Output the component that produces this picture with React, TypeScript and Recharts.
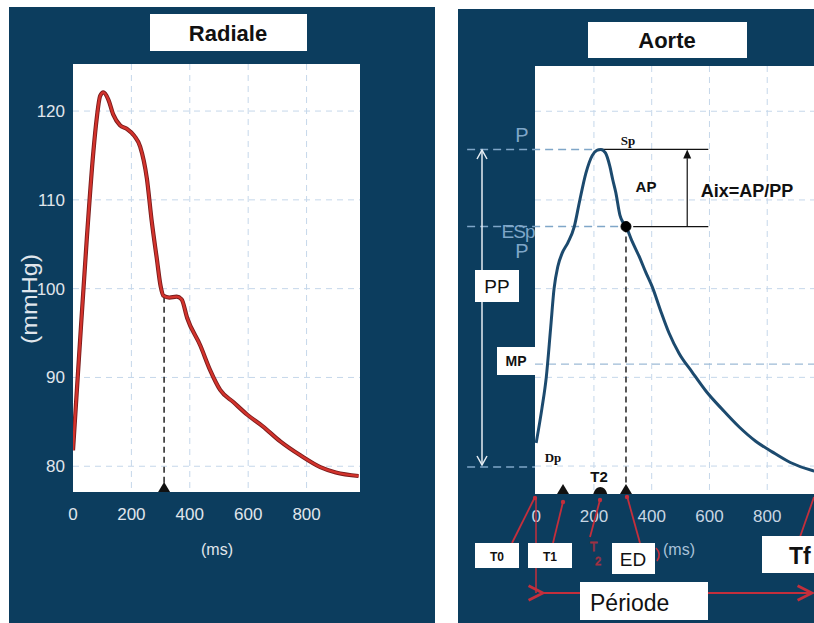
import React from "react";
import {
  LineChart,
  Line,
  XAxis,
  YAxis,
  CartesianGrid,
  ReferenceLine,
  ReferenceDot,
} from "recharts";

// ---------- Radiale (left) ----------
const radialTimes = [0, 20, 47, 70, 81, 93, 104, 121, 138, 161, 184, 210, 230, 253, 270, 287, 300, 310, 330, 355, 372, 391, 436, 470, 504, 550, 597, 650, 710, 780, 847, 900, 978];
const radialPressure = [81.8, 92, 105.5, 115.5, 119.1, 121.7, 122.1, 121.3, 119.6, 118.4, 118, 117.2, 116, 112.4, 107.5, 103.4, 100.3, 99.2, 99.0, 99.1, 98.8, 96.7, 93.6, 90.8, 88.6, 87.2, 85.8, 84.5, 82.8, 81.2, 79.9, 79.3, 78.9];
const radialXTicks = [0, 200, 400, 600, 800];
const radialYTicks = [80, 90, 100, 110, 120];
const radialNotchTime = 312;
const radialNotchValue = 99.1;

// ---------- Aorte (right) ----------
const aortaTimes = [0, 20, 35, 50, 62, 75, 90, 110, 132, 150, 172, 194, 210, 224, 240, 255, 265, 276, 290, 300, 311, 330, 357, 380, 402, 430, 460, 495, 540, 589, 644, 703, 760, 817, 880, 956, 1000];
const aortaPressure = [82.6, 86.5, 90, 95.5, 100, 102.5, 104, 105.2, 107, 109.8, 113, 115, 115.6, 115.7, 115.3, 113.8, 112.3, 110.8, 108.3, 107.5, 107.0, 105.5, 103.6, 101.8, 100.2, 97.6, 95, 92.7, 90.6, 88.4, 86.4, 84.4, 82.8, 81.6, 80.4, 79.5, 79.2];
const aortaXTicks = [0, 200, 400, 600, 800];
const aortaGridY = [80, 90, 100, 110, 120];
const SP = 115.7; // systolic peak
const SP_T = 224;
const ESP = 107.0; // end-systolic pressure
const ED_T = 311; // ejection duration
const MP = 91.5; // mean pressure
const DP = 79.9; // diastolic pressure
const T1_T = 93;
const T2_T = 222;

const radialData = radialTimes.map((t, i) => ({ t, v: radialPressure[i] }));
const aortaData = aortaTimes.map((t, i) => ({ t, v: aortaPressure[i] }));

const NAVY = "#0c3d5e";
const RED = "#c42f3c";
const LIGHT = "#7fa6c8";
const GRID = "#c5d7ea";
const SANS = "'Liberation Sans', Arial, sans-serif";
const NARROW = "'Liberation Sans Narrow', 'Liberation Sans', Arial, sans-serif";
const SERIF = "'Liberation Serif', 'Times New Roman', serif";

const Tri = (props: any) => {
  const { cx, cy } = props;
  return <path d={`M${cx - 6},${cy} L${cx},${cy - 10} L${cx + 6},${cy} Z`} fill="#111" />;
};
const Blob = (props: any) => {
  const { cx, cy } = props;
  return <path d={`M${cx - 7},${cy} Q${cx - 5},${cy - 7} ${cx},${cy - 7} Q${cx + 5},${cy - 7} ${cx + 7},${cy} Z`} fill="#111" />;
};
const UpHead = (props: any) => {
  const { cx, cy } = props;
  return <path d={`M${cx - 4},${cy + 9} L${cx},${cy} L${cx + 4},${cy + 9} Z`} fill="#111" />;
};

function RadialChart() {
  return (
    <LineChart
      width={440}
      height={623}
      data={radialData}
      margin={{ top: 64, right: 80, bottom: 101, left: 23 }}
      style={{ position: "absolute", left: 0, top: 0 }}
    >
      <CartesianGrid
        fill="#ffffff"
        stroke={GRID}
        strokeDasharray="6 5"
        horizontalValues={radialYTicks}
        verticalValues={[200, 400, 600, 800]}
      />
      <XAxis
        dataKey="t"
        type="number"
        domain={[0, 983]}
        ticks={radialXTicks}
        allowDataOverflow
        axisLine={false}
        tickLine={false}
        tickMargin={10}
        height={30}
        tick={{ fill: "#e0e6ec", fontSize: 17, fontFamily: NARROW }}
      />
      <YAxis
        type="number"
        domain={[77.1, 125.3]}
        ticks={radialYTicks}
        allowDataOverflow
        axisLine={false}
        tickLine={false}
        width={50}
        tick={{ fill: "#e0e6ec", fontSize: 17, fontFamily: NARROW }}
      />
      <ReferenceLine
        segment={[{ x: radialNotchTime, y: radialNotchValue }, { x: radialNotchTime, y: 77.1 }]}
        stroke="#222"
        strokeDasharray="6 4"
        strokeWidth={1.5}
      />
      <Line dataKey="v" type="monotone" stroke="#7a1c1c" strokeWidth={4.2} dot={false} isAnimationActive={false} />
      <Line dataKey="v" type="monotone" stroke="#d3332c" strokeWidth={2.4} dot={false} isAnimationActive={false} />
      <ReferenceDot x={radialNotchTime} y={77.1} ifOverflow="visible" shape={Tri} />
    </LineChart>
  );
}

function AortaChart() {
  return (
    <LineChart
      width={400}
      height={623}
      data={aortaData}
      margin={{ top: 66, right: 33, bottom: 99, left: 77 }}
      style={{ position: "absolute", left: 458, top: 0, overflow: "visible" }}
    >
      <CartesianGrid
        fill="#ffffff"
        stroke={GRID}
        strokeDasharray="6 5"
        horizontalValues={aortaGridY}
        verticalValues={[200, 400, 600, 800]}
      />
      <XAxis
        dataKey="t"
        type="number"
        domain={[-4, 1000]}
        ticks={aortaXTicks}
        allowDataOverflow
        axisLine={false}
        tickLine={false}
        tickMargin={10}
        height={30}
        tick={{ fill: "#c8d6e3", fontSize: 17, fontFamily: NARROW }}
      />
      <YAxis type="number" domain={[76.85, 125.1]} allowDataOverflow hide />
      <ReferenceLine y={MP} stroke="#9dbbd6" strokeDasharray="8 5" strokeWidth={1.2} />
      <ReferenceLine segment={[{ x: -239, y: SP }, { x: SP_T, y: SP }]} ifOverflow="visible" stroke={LIGHT} strokeDasharray="8 5" strokeWidth={1.5} />
      <ReferenceLine segment={[{ x: SP_T, y: SP }, { x: 596, y: SP }]} ifOverflow="visible" stroke="#111" strokeWidth={1.2} />
      <ReferenceLine segment={[{ x: -239, y: ESP }, { x: ED_T, y: ESP }]} ifOverflow="visible" stroke={LIGHT} strokeDasharray="8 5" strokeWidth={1.5} />
      <ReferenceLine segment={[{ x: 336, y: ESP }, { x: 596, y: ESP }]} ifOverflow="visible" stroke="#111" strokeWidth={1.2} />
      <ReferenceLine segment={[{ x: 523, y: ESP }, { x: 523, y: SP - 1 }]} ifOverflow="visible" stroke="#111" strokeWidth={1.2} />
      <ReferenceDot x={523} y={SP} ifOverflow="visible" shape={UpHead} />
      <ReferenceLine segment={[{ x: -239, y: DP }, { x: -4, y: DP }]} ifOverflow="visible" stroke={LIGHT} strokeDasharray="8 5" strokeWidth={1.5} />
      <ReferenceLine segment={[{ x: ED_T, y: ESP }, { x: ED_T, y: 76.85 }]} stroke="#222" strokeDasharray="6 4" strokeWidth={1.5} />
      <Line dataKey="v" type="monotone" stroke="#1c4a6e" strokeWidth={3} dot={false} isAnimationActive={false} />
      <ReferenceDot x={ED_T} y={ESP} r={5} fill="#000" stroke="#000" ifOverflow="visible" />
      <ReferenceDot x={T1_T} y={76.85} ifOverflow="visible" shape={Tri} />
      <ReferenceDot x={T2_T} y={76.85} ifOverflow="visible" shape={Blob} />
      <ReferenceDot x={ED_T} y={76.85} ifOverflow="visible" shape={Tri} />
    </LineChart>
  );
}

function Overlay() {
  const box = (x: number, y: number, w: number, h: number) => (
    <rect x={x} y={y} width={w} height={h} fill="#ffffff" />
  );
  return (
    <svg
      width={814}
      height={623}
      style={{ position: "absolute", left: 0, top: 0, pointerEvents: "none" }}
    >
      <defs>
        <marker id="redL" markerWidth="10" markerHeight="10" refX="1" refY="5" orient="auto">
          <path d="M9,1 L1,5 L9,9" fill="none" stroke={RED} strokeWidth="1.6" />
        </marker>
        <marker id="redR" markerWidth="10" markerHeight="10" refX="9" refY="5" orient="auto">
          <path d="M1,1 L9,5 L1,9" fill="none" stroke={RED} strokeWidth="1.6" />
        </marker>
      </defs>

      {/* Left panel titles */}
      {box(150, 14, 157, 37)}
      <text x={228} y={41} textAnchor="middle" fontFamily={SANS} fontWeight="bold" fontSize={22} fill="#111">Radiale</text>
      <text x={29} y={299} transform="rotate(-90 29 299)" textAnchor="middle" dominantBaseline="central" fontFamily={NARROW} fontSize={22} textLength={90} lengthAdjust="spacingAndGlyphs" fill="#e0e6ec">(mmHg)</text>
      <text x={217} y={555} textAnchor="middle" fontFamily={NARROW} fontSize={16} fill="#e0e6ec">(ms)</text>

      {/* Right panel title */}
      {box(588, 22, 159, 36)}
      <text x={667} y={48} textAnchor="middle" fontFamily={SANS} fontWeight="bold" fontSize={22} fill="#111">Aorte</text>

      {/* light blue level labels */}
      <text x={522} y={142} textAnchor="middle" fontFamily={NARROW} fontSize={20} fill={LIGHT}>P</text>
      <text x={518} y={238} textAnchor="middle" fontFamily={NARROW} fontSize={19} fill={LIGHT} letterSpacing={-1}>ESp</text>
      <text x={522} y={258} textAnchor="middle" fontFamily={NARROW} fontSize={20} fill={LIGHT}>P</text>

      {/* PP double arrow */}
      <line x1={482} y1={150} x2={482} y2={465} stroke="#e6edf3" strokeWidth={1.5} />
      <path d="M477,159 L482,150 L487,159" fill="none" stroke="#e6edf3" strokeWidth={1.5} />
      <path d="M477,456 L482,465 L487,456" fill="none" stroke="#e6edf3" strokeWidth={1.5} />
      {box(475, 270, 44, 32)}
      <text x={497} y={293} textAnchor="middle" fontFamily={SANS} fontSize={19} fill="#111">PP</text>
      {box(497, 347, 38, 28)}
      <text x={516} y={366} textAnchor="middle" fontFamily={SANS} fontWeight="bold" fontSize={14} fill="#111">MP</text>

      {/* in-plot labels */}
      <text x={628} y={145} textAnchor="middle" fontFamily={SERIF} fontWeight="bold" fontSize={13} fill="#111">Sp</text>
      <text x={646} y={192} textAnchor="middle" fontFamily={SANS} fontWeight="bold" fontSize={15} fill="#111">AP</text>
      <text x={747} y={197} textAnchor="middle" fontFamily={SANS} fontWeight="bold" fontSize={18} fill="#111">Aix=AP/PP</text>
      <text x={553} y={462} textAnchor="middle" fontFamily={SERIF} fontWeight="bold" fontSize={13} fill="#111">Dp</text>
      <text x={599} y={482} textAnchor="middle" fontFamily={SANS} fontWeight="bold" fontSize={15} fill="#111">T2</text>

      {/* red annotations */}
      <line x1={512} y1={543} x2={535} y2={497} stroke={RED} strokeWidth={1.8} />
      <circle cx={535} cy={498} r={2.2} fill={RED} />
      <line x1={553} y1={543} x2={563} y2={502} stroke={RED} strokeWidth={1.8} />
      <circle cx={563} cy={502} r={2.2} fill={RED} />
      <line x1={590} y1={537} x2={600} y2={500} stroke={RED} strokeWidth={1.8} />
      <circle cx={600} cy={500} r={2.2} fill={RED} />
      <text x={590} y={551} fontFamily={SANS} fontSize={12} fill="none" stroke={RED} strokeWidth={0.8} opacity={0.8}>T</text>
      <text x={595} y={565} fontFamily={SANS} fontSize={11} fill="none" stroke={RED} strokeWidth={0.8} opacity={0.8}>2</text>
      <line x1={640} y1={543} x2={627} y2={496} stroke={RED} strokeWidth={1.8} />
      <circle cx={627} cy={497} r={2.2} fill={RED} />
      <path d="M656,548 Q662,554 657,561" fill="none" stroke={RED} strokeWidth={1.6} />
      <line x1={800} y1={537} x2={814} y2={497} stroke={RED} strokeWidth={1.8} />
      <line x1={536} y1={497} x2={536} y2={593} stroke={RED} strokeWidth={1.5} />
      <line x1={580} y1={593} x2={543} y2={593} stroke={RED} strokeWidth={1.8} markerEnd="url(#redL)" />
      <line x1={708} y1={593} x2={812} y2={593} stroke={RED} strokeWidth={1.8} markerEnd="url(#redR)" />

      {/* bottom boxes */}
      {box(475, 543, 44, 25)}
      <text x={497} y={561} textAnchor="middle" fontFamily={NARROW} fontWeight="bold" fontSize={12} fill="#111">T0</text>
      {box(528, 543, 44, 25)}
      <text x={550} y={561} textAnchor="middle" fontFamily={NARROW} fontWeight="bold" fontSize={12} fill="#111">T1</text>
      {box(612, 543, 43, 31)}
      <text x={633} y={566} textAnchor="middle" fontFamily={SANS} fontSize={19} fill="#111">ED</text>
      <text x={679} y={555} textAnchor="middle" fontFamily={NARROW} fontSize={16} fill="#a9c2d9">(ms)</text>
      {box(762, 536, 60, 37)}
      <text x={789} y={564} fontFamily={SANS} fontWeight="bold" fontSize={23} fill="#111">Tf</text>
      {box(580, 582, 128, 38)}
      <text x={590} y={611} fontFamily={SANS} fontSize={23} fill="#111">Période</text>
    </svg>
  );
}

export default function App() {
  return (
    <div
      style={{
        position: "absolute",
        left: 0,
        top: 0,
        width: 814,
        height: 623,
        overflow: "hidden",
        background: "#ffffff",
      }}
    >
      <div style={{ position: "absolute", left: 9, top: 7, width: 426, height: 616, background: NAVY }} />
      <div style={{ position: "absolute", left: 458, top: 9, width: 356, height: 614, background: NAVY }} />
      <RadialChart />
      <AortaChart />
      <Overlay />
    </div>
  );
}
